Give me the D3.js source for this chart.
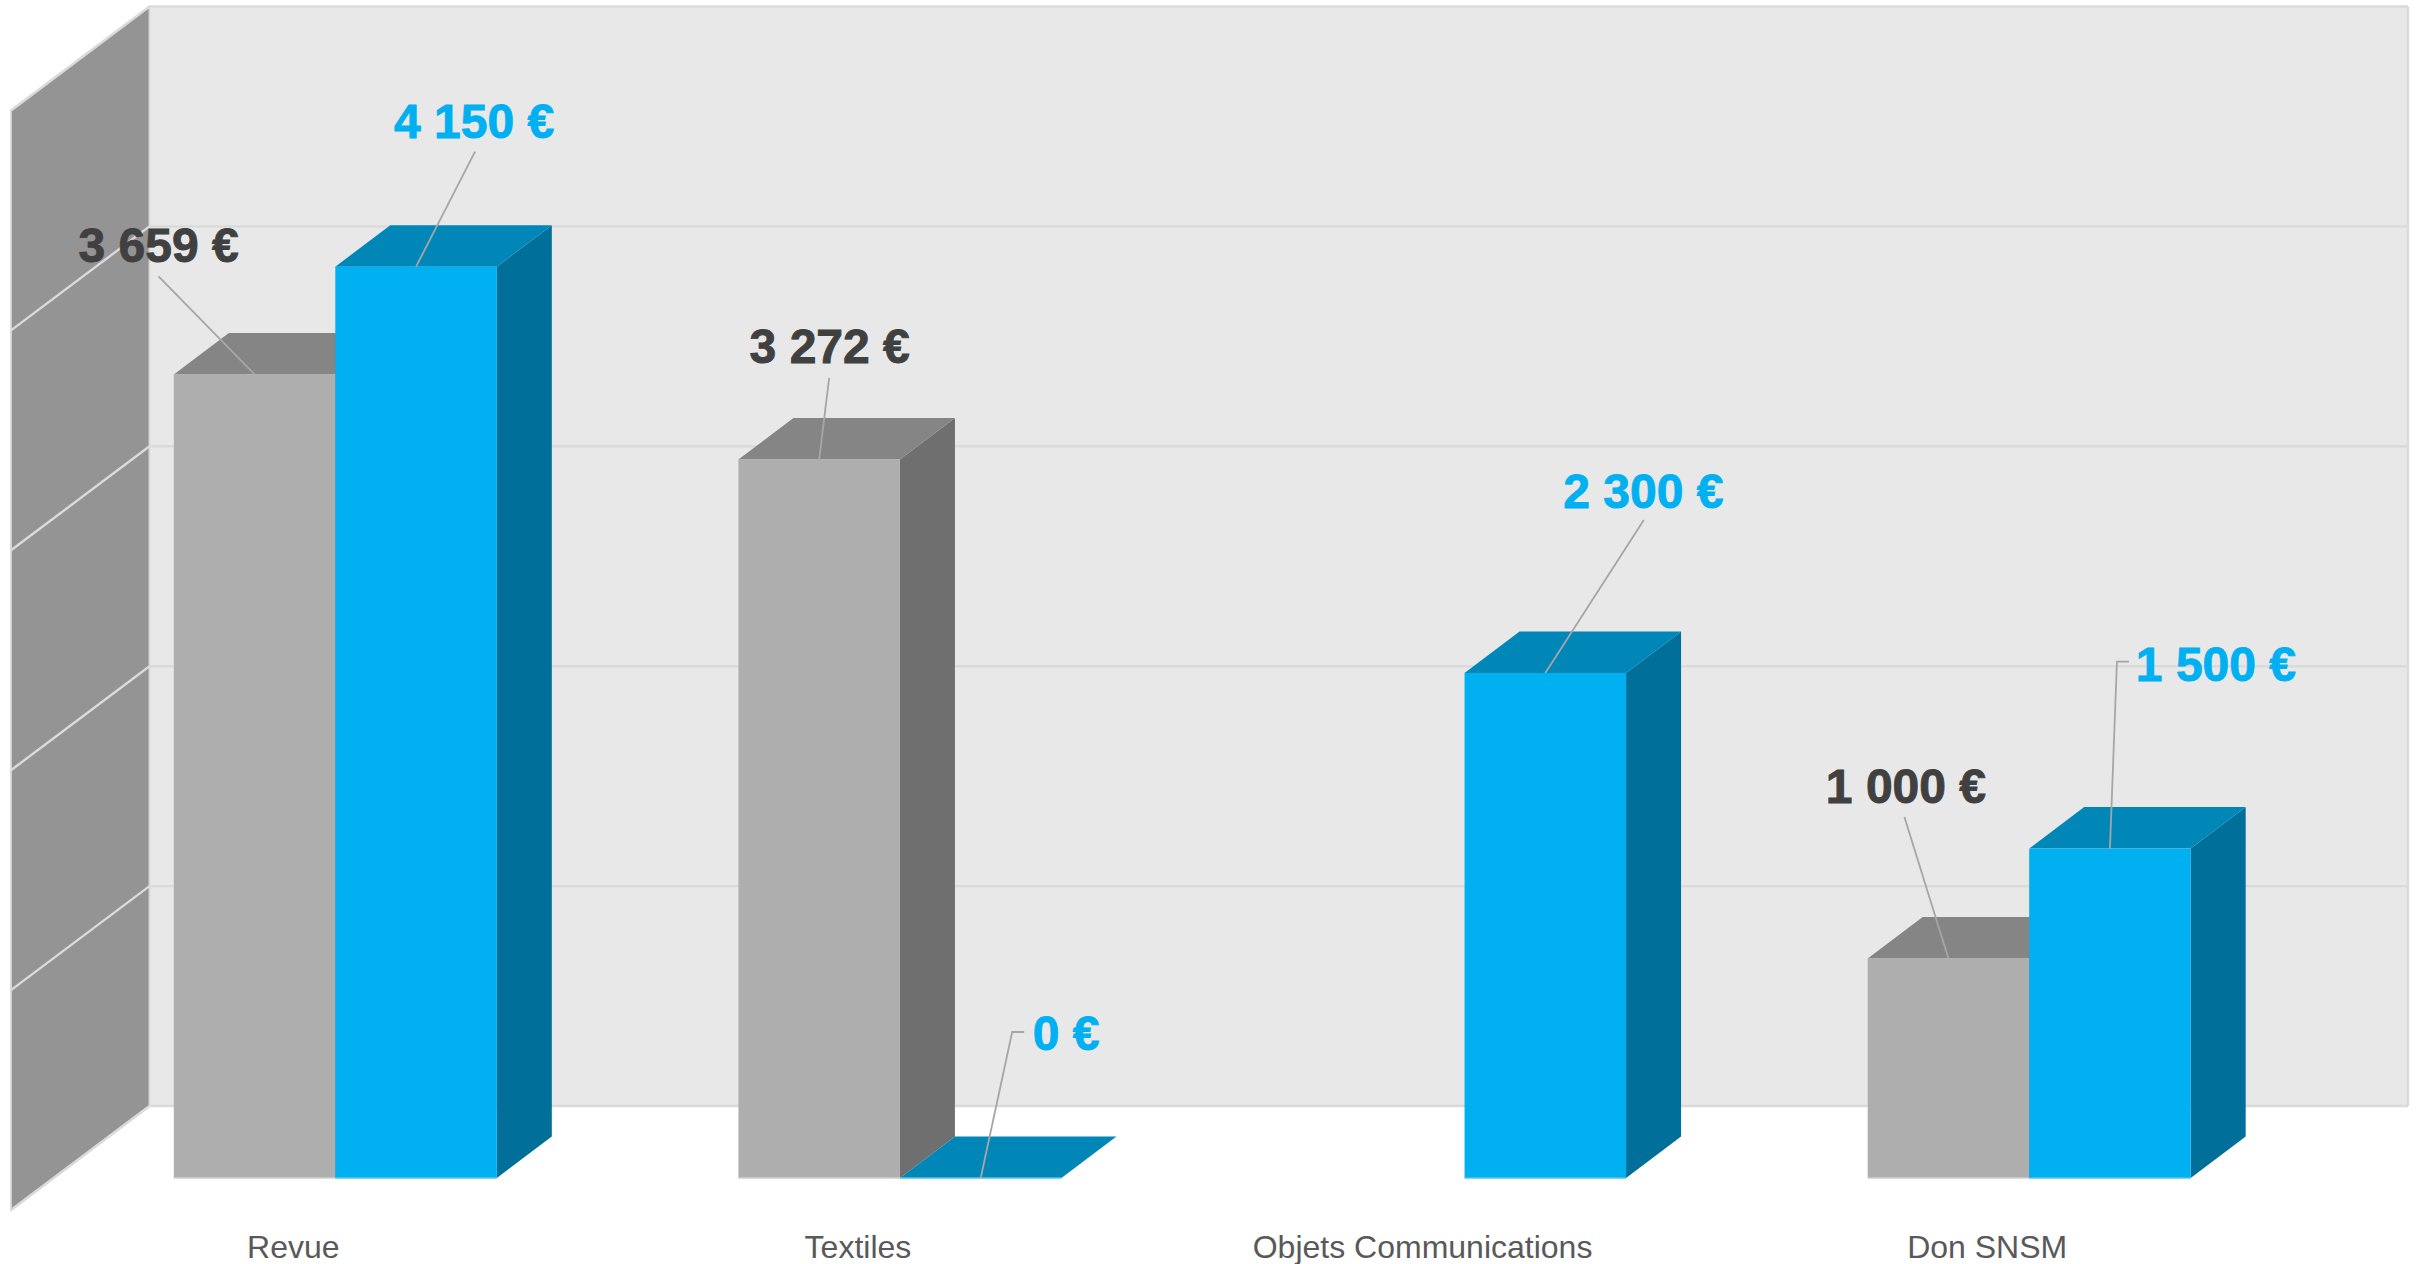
<!DOCTYPE html>
<html><head><meta charset="utf-8">
<script src="https://cdn.jsdelivr.net/npm/d3@7/dist/d3.min.js"></script>
<style>html,body{margin:0;padding:0;background:#fff}svg{display:block}text{font-family:"Liberation Sans",Arial,sans-serif}</style>
</head><body><svg id="c" width="2420" height="1264"></svg>
<script>
const categories = ["Revue","Textiles","Objets Communications","Don SNSM"];
const seriesNames = ["gris","bleu"];
const grisValues = [3659,3272,null,1000];
const bleuValues = [4150,0,2300,1500];
const labelText = v => d3.format(",")(v).replace(/,/g,"\u00a0")+" €";
const yTicks = [0,1000,2000,3000,4000,5000];

// layout (not data)
const W=2420,H=1264;
const wall={x0:11,x1:149.5,right:2408,depthY:104};
const barDepth={dx:55,dy:41.5};
const groupShift=42;
const palette={
 gris:{front:"#aeaeae",top:"#858585",side:"#6f6f6f",edge:"#cfcfcf",text:"#404040"},
 bleu:{front:"#00b0f0",top:"#0087b8",side:"#00709b",edge:"#55c4ee",text:"#00b0f0"}
};
// label placement relative to each bar's anchor: [dx text, dy baseline, dx leader, dy leader, dx elbow]
const labelPlace={
 gris:[[-96,-112,-96,-98],[10.5,-96.5,10,-81.5],null,[-42.5,-155,-44,-141.5]],
 bleu:[[58,-129,59,-115],[85.5,-128,43.5,-146,31.5],[98,-165,98.5,-153],[106,-168,19,-187,7]]
};

const svg=d3.select("#c");
const x0=d3.scaleBand().domain(categories).range([wall.x0,wall.right-wall.x1+wall.x0]);
const x1=d3.scaleBand().domain(seriesNames).range([-161.5,161.5]);
const y=d3.scaleLinear().domain([0,5000]).range([1178,80]);
const wallY=d3.scaleLinear().domain([0,5000]).range([1210,110.5]);
const wallDx=wall.x1-wall.x0;
const poly=p=>"M"+p.map(a=>a.join(",")).join("L")+"Z";

// back wall
svg.append("rect").attr("x",wall.x1).attr("y",wallY(5000)-wall.depthY).attr("width",wall.right-wall.x1)
  .attr("height",wallY(0)-wallY(5000)).attr("fill","#e8e8e8");
// side wall
svg.append("path").attr("d",poly([[wall.x0,wallY(0)],[wall.x1,wallY(0)-wall.depthY],[wall.x1,wallY(5000)-wall.depthY],[wall.x0,wallY(5000)]]))
  .attr("fill","#949494").attr("stroke","#d9d9d9").attr("stroke-width",1.8);
// grid
const grid=svg.append("g").attr("fill","none").attr("stroke","#dadada").attr("stroke-width",2.4);
grid.selectAll("path").data(yTicks).join("path")
  .attr("d",t=>`M${wall.x0},${wallY(t)}L${wall.x1},${wallY(t)-wall.depthY}L${wall.right},${wallY(t)-wall.depthY}`);
grid.append("path").attr("d",`M${wall.right},${wallY(5000)-wall.depthY}V${wallY(0)-wall.depthY}`);

// bars
const series={gris:grisValues,bleu:bleuValues};
const rows=[];
categories.forEach((c,i)=>seriesNames.forEach(s=>{
  if(series[s][i]!==null) rows.push({c,i,s,v:series[s][i]});
}));
const cx=d=>x0(d.c)+x0.bandwidth()/2+groupShift;
const g=svg.append("g").selectAll("g").data(rows).join("g");
const L=d=>cx(d)+x1(d.s), R=d=>L(d)+x1.bandwidth();
g.append("path").attr("d",d=>poly([[R(d),y(0)],[R(d)+barDepth.dx,y(0)-barDepth.dy],[R(d)+barDepth.dx,y(d.v)-barDepth.dy],[R(d),y(d.v)]]))
  .attr("fill",d=>palette[d.s].side);
g.append("path").attr("d",d=>poly([[L(d),y(d.v)],[L(d)+barDepth.dx,y(d.v)-barDepth.dy],[R(d)+barDepth.dx,y(d.v)-barDepth.dy],[R(d),y(d.v)]]))
  .attr("fill",d=>palette[d.s].top);
g.append("rect").attr("x",L).attr("y",d=>y(d.v)).attr("width",x1.bandwidth()).attr("height",d=>y(0)-y(d.v))
  .attr("fill",d=>palette[d.s].front);
g.append("path").attr("d",d=>`M${L(d)},${y(0)}H${R(d)}`).attr("stroke",d=>palette[d.s].edge).attr("stroke-width",1.5);

// leaders and labels
const lab=svg.append("g");
rows.forEach(d=>{
  const p=labelPlace[d.s][d.i];
  const ax=L(d)+x1.bandwidth()/2, ay=y(d.v);
  let pts=[[ax+p[2],ay+p[3]]];
  if(p.length>4) pts.push([ax+p[4],ay+p[3]]);
  pts.push([ax,ay]);
  lab.append("path").attr("d","M"+pts.map(a=>a.join(",")).join("L")).attr("fill","none").attr("stroke","#a6a6a6").attr("stroke-width",1.8);
});
rows.forEach(d=>{
  const p=labelPlace[d.s][d.i];
  lab.append("text").attr("x",L(d)+x1.bandwidth()/2+p[0]).attr("y",y(d.v)+p[1])
    .attr("text-anchor","middle").attr("font-size",48).attr("font-weight",700).attr("fill",palette[d.s].text)
    .attr("stroke",palette[d.s].text).attr("stroke-width",0.9)
    .text(labelText(d.v));
});
// category axis
svg.append("g").selectAll("text").data(categories).join("text")
  .attr("x",c=>x0(c)+x0.bandwidth()/2).attr("y",1258).attr("text-anchor","middle")
  .attr("font-size",32).attr("fill","#595959").text(c=>c);
</script></body></html>
